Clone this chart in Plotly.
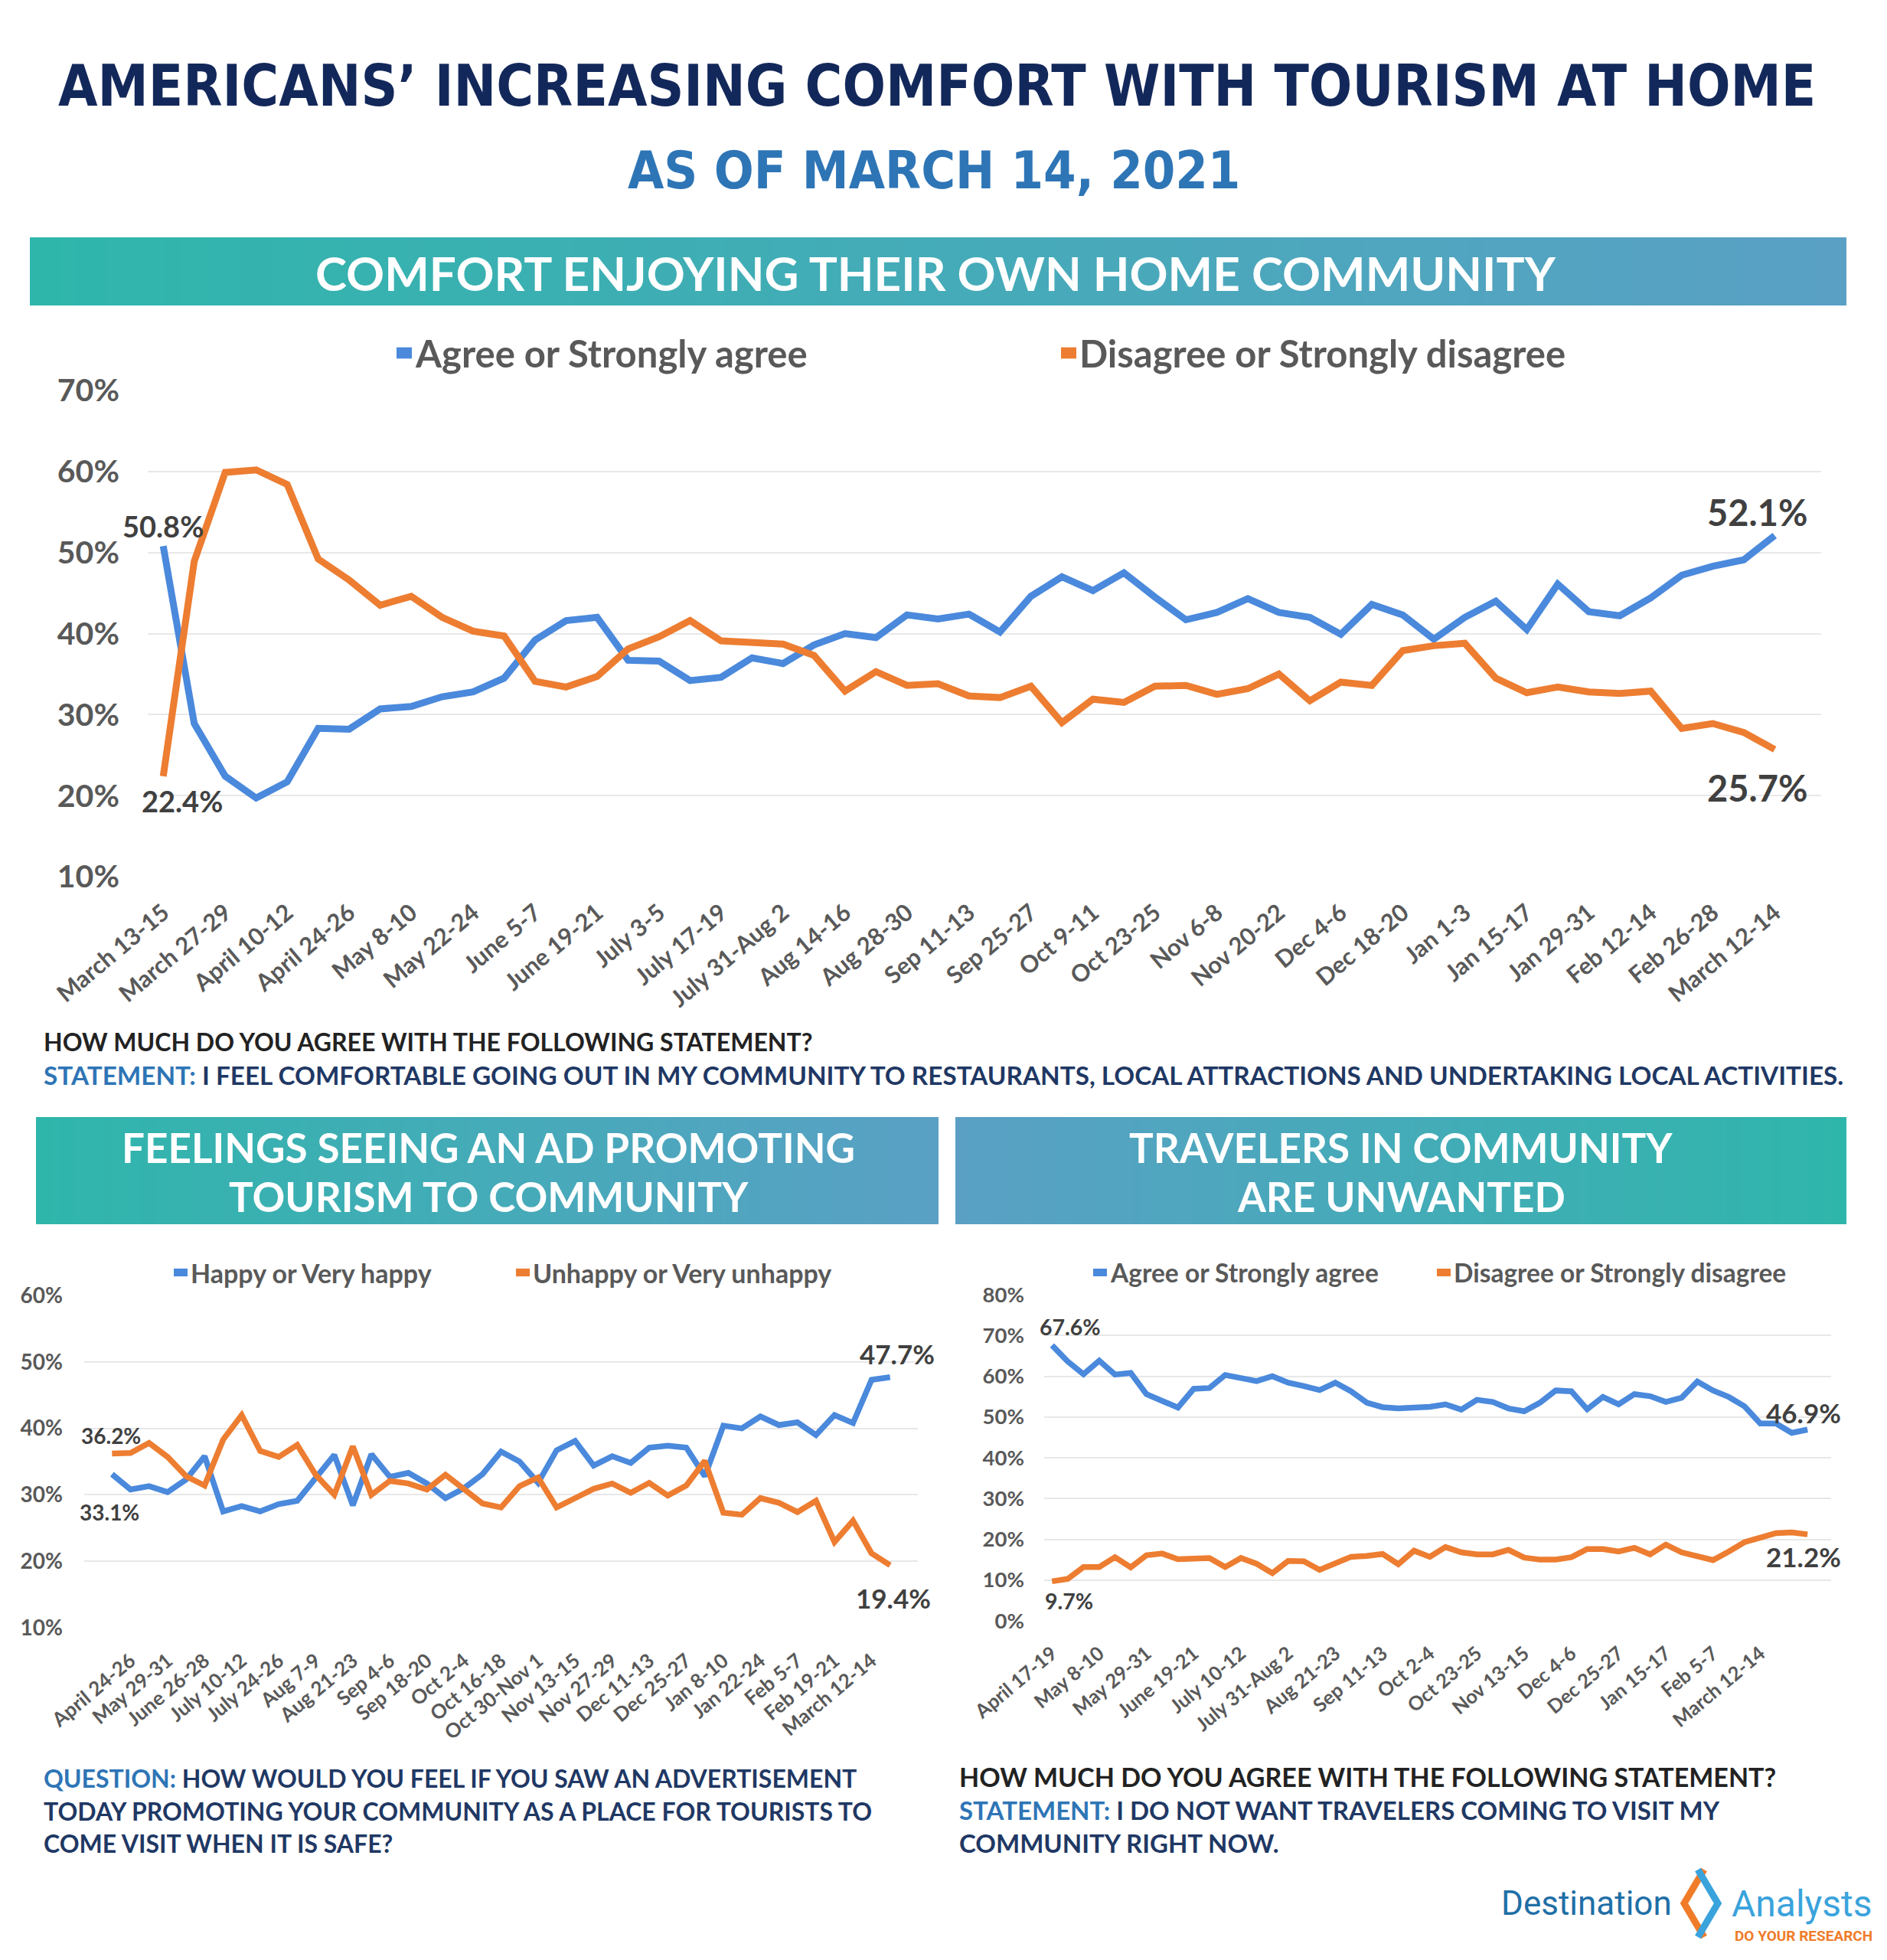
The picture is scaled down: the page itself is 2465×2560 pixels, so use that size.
import plotly.graph_objects as go

W, H = 2465, 2560

# ---------------- data ----------------
top_labels = ["March 13-15", "March 27-29", "April 10-12", "April 24-26", "May 8-10", "May 22-24",
              "June 5-7", "June 19-21", "July 3-5", "July 17-19", "July 31-Aug 2", "Aug 14-16",
              "Aug 28-30", "Sep 11-13", "Sep 25-27", "Oct 9-11", "Oct 23-25", "Nov 6-8", "Nov 20-22",
              "Dec 4-6", "Dec 18-20", "Jan 1-3", "Jan 15-17", "Jan 29-31", "Feb 12-14", "Feb 26-28",
              "March 12-14"]
top_agree = [50.8, 28.9, 22.4, 19.7, 21.7, 28.3, 28.2, 30.7, 31.0, 32.2, 32.8, 34.5, 39.2, 41.6, 42.0,
             36.7, 36.6, 34.2, 34.6, 37.0, 36.3, 38.6, 40.0, 39.5, 42.3, 41.8, 42.4, 40.2, 44.6, 47.0,
             45.3, 47.5, 44.5, 41.7, 42.6, 44.3, 42.6, 42.0, 39.9, 43.6, 42.3, 39.3, 42.0, 44.0, 40.5,
             46.1, 42.7, 42.2, 44.4, 47.2, 48.3, 49.1, 52.1]
top_disagree = [22.4, 48.9, 59.9, 60.2, 58.4, 49.2, 46.6, 43.5, 44.6, 42.0, 40.3, 39.7, 34.1, 33.4, 34.7,
                38.1, 39.6, 41.6, 39.1, 38.8, 38.7, 37.3, 32.9, 35.3, 33.6, 33.8, 32.3, 32.1, 33.5, 29.0,
                31.9, 31.5, 33.5, 33.6, 32.5, 33.2, 35.0, 31.7, 34.0, 33.6, 37.9, 38.5, 38.8, 34.5, 32.7,
                33.4, 32.8, 32.6, 32.9, 28.3, 28.9, 27.8, 25.7]

ad_labels = ["April 24-26", "May 29-31", "June 26-28", "July 10-12", "July 24-26", "Aug 7-9", "Aug 21-23",
             "Sep 4-6", "Sep 18-20", "Oct 2-4", "Oct 16-18", "Oct 30-Nov 1", "Nov 13-15", "Nov 27-29",
             "Dec 11-13", "Dec 25-27", "Jan 8-10", "Jan 22-24", "Feb 5-7", "Feb 19-21", "March 12-14"]
ad_happy = [33.1, 30.8, 31.3, 30.4, 32.3, 35.8, 27.5, 28.3, 27.5, 28.6, 29.1, 32.6, 36.0, 28.4, 36.1,
            32.7, 33.3, 31.7, 29.5, 31.0, 33.1, 36.5, 35.0, 31.8, 36.7, 38.1, 34.4, 35.8, 34.8, 37.1,
            37.4, 37.1, 32.8, 40.4, 40.0, 41.8, 40.5, 40.9, 39.0, 42.0, 40.8, 47.3, 47.7]
ad_unhappy = [36.2, 36.3, 37.8, 35.7, 32.8, 31.4, 38.3, 42.0, 36.6, 35.7, 37.5, 33.0, 30.0, 37.3, 30.0,
              32.1, 31.7, 30.8, 33.0, 30.8, 28.7, 28.1, 31.3, 32.6, 28.1, 29.5, 30.9, 31.7, 30.3, 31.8,
              29.9, 31.4, 35.1, 27.3, 27.0, 29.5, 28.8, 27.4, 29.1, 22.9, 26.1, 21.2, 19.4]

trav_labels = ["April 17-19", "May 8-10", "May 29-31", "June 19-21", "July 10-12", "July 31-Aug 2",
               "Aug 21-23", "Sep 11-13", "Oct 2-4", "Oct 23-25", "Nov 13-15", "Dec 4-6", "Dec 25-27",
               "Jan 15-17", "Feb 5-7", "March 12-14"]
trav_agree = [67.6, 63.6, 60.5, 63.8, 60.4, 60.8, 55.6, 53.9, 52.3, 56.9, 57.1, 60.3, 59.4, 58.8, 60.0,
              58.4, 57.6, 56.6, 58.4, 56.3, 53.5, 52.4, 52.1, 52.3, 52.5, 53.1, 51.8, 54.2, 53.7, 52.1,
              51.4, 53.5, 56.5, 56.3, 51.9, 54.9, 53.1, 55.6, 55.1, 53.7, 54.7, 58.7, 56.5, 54.9, 52.6,
              48.4, 48.4, 46.1, 46.9]
trav_disagree = [9.7, 10.3, 13.2, 13.2, 15.6, 13.1, 16.1, 16.5, 15.1, 15.4, 15.4, 13.2, 15.4, 14.0, 11.7,
                 14.7, 14.6, 12.5, 14.0, 15.7, 15.9, 16.4, 13.9, 17.2, 15.7, 18.1, 16.8, 16.3, 16.3, 17.4,
                 15.5, 15.0, 15.0, 15.6, 17.6, 17.6, 17.0, 17.9, 16.3, 18.7, 16.8, 16.0, 14.9, 17.0, 19.3,
                 20.4, 21.5, 21.7, 21.2]

# ---------------- styles ----------------
BLUE = "#4a89dc"
ORANGE = "#ed7d31"
GREY = "#595959"
DARK = "#404040"
NAVY = "#13285a"
MIDBLUE = "#2e75b6"
TEAL = (47, 182, 171)
SKY = (90, 160, 197)
NARROW = "'DejaVu Sans Condensed', 'Liberation Sans Narrow', sans-serif"
SANS = "Lato, 'Open Sans', sans-serif"
OFF = 8  # page margin compensation


def fx(px):
    return (px - OFF) / W


def fy(py):
    return 1 - (py - OFF) / H


fig = go.Figure()


def add_series(vals, color, width, xa, ya):
    fig.add_trace(go.Scatter(x=list(range(len(vals))), y=vals, mode="lines",
                             line=dict(color=color, width=width), xaxis=xa, yaxis=ya,
                             showlegend=False, hoverinfo="skip"))


add_series(top_agree, BLUE, 9, "x", "y")
add_series(top_disagree, ORANGE, 9, "x", "y")
add_series(ad_happy, BLUE, 7.5, "x2", "y2")
add_series(ad_unhappy, ORANGE, 7.5, "x2", "y2")
add_series(trav_agree, BLUE, 7.5, "x3", "y3")
add_series(trav_disagree, ORANGE, 7.5, "x3", "y3")

shapes = []
annotations = []


def gradient(x0, x1, y0, y1, c0, c1, n=120):
    step = (x1 - x0) / n
    for i in range(n):
        t = i / (n - 1)
        c = tuple(int(round(c0[k] + (c1[k] - c0[k]) * t)) for k in range(3))
        shapes.append(dict(type="rect", xref="paper", yref="paper",
                           x0=fx(x0 + i * step), x1=fx(min(x1, x0 + (i + 1) * step + 1)),
                           y0=fy(y1), y1=fy(y0), line=dict(width=0),
                           fillcolor="rgb(%d,%d,%d)" % c, layer="below"))


def text(x, y, s, size, color, family=SANS, xanchor="center", weight="bold"):
    annotations.append(dict(x=fx(x), y=fy(y), xref="paper", yref="paper", text=s, showarrow=False,
                            xanchor=xanchor, yanchor="middle",
                            font=dict(family=family, size=size, color=color, weight=weight)))


# titles
text(1224, 112, "AMERICANS’ INCREASING COMFORT WITH TOURISM AT HOME", 74, NAVY, NARROW)
text(1220, 222, "AS OF MARCH 14, 2021", 68, MIDBLUE, NARROW)

# banners
gradient(39, 2412, 310, 399, TEAL, SKY)
text(1222, 356, "COMFORT ENJOYING THEIR OWN HOME COMMUNITY", 62, "white")
gradient(47, 1226, 1459, 1599, TEAL, SKY)
text(638, 1498, "FEELINGS SEEING AN AD PROMOTING", 53, "white")
text(638, 1562, "TOURISM TO COMMUNITY", 53, "white")
gradient(1248, 2412, 1459, 1599, SKY, TEAL)
text(1830, 1498, "TRAVELERS IN COMMUNITY", 53, "white")
text(1830, 1562, "ARE UNWANTED", 53, "white")


# legends
def legend_item(x, y, color, label, size, mlen=20):
    shapes.append(dict(type="line", xref="paper", yref="paper", x0=fx(x), x1=fx(x + mlen),
                       y0=fy(y), y1=fy(y), line=dict(color=color, width=size * 0.3)))
    text(x + mlen + 2, y, label, size, GREY, xanchor="left")


legend_item(518, 461, BLUE, "Agree or Strongly agree", 49)
legend_item(1386, 461, ORANGE, "Disagree or Strongly disagree", 49)
legend_item(227, 1662, BLUE, "Happy or Very happy", 34, 18)
legend_item(674, 1662, ORANGE, "Unhappy or Very unhappy", 34, 18)
legend_item(1428, 1662, BLUE, "Agree or Strongly agree", 33.5, 18)
legend_item(1877, 1662, ORANGE, "Disagree or Strongly disagree", 33.5, 18)


# value labels
def val_label(xa, ya, idx, vals, dx, dy, size):
    annotations.append(dict(x=idx, y=vals[idx], xref=xa, yref=ya, text="%.1f%%" % vals[idx],
                            showarrow=False, xanchor="center", yanchor="middle", xshift=dx, yshift=dy,
                            font=dict(family=SANS, size=size, color=DARK, weight="bold")))


val_label("x", "y", 0, top_agree, 0, 26, 38)
val_label("x", "y", 0, top_disagree, 25, -32, 38)
val_label("x", "y", len(top_agree) - 1, top_agree, -23, 30, 47)
val_label("x", "y", len(top_disagree) - 1, top_disagree, -23, -50, 47)
val_label("x2", "y2", 0, ad_unhappy, -1, 24, 28)
val_label("x2", "y2", 0, ad_happy, -3, -50, 28)
val_label("x2", "y2", len(ad_happy) - 1, ad_happy, 9, 31, 35)
val_label("x2", "y2", len(ad_unhappy) - 1, ad_unhappy, 4, -43, 35)
val_label("x3", "y3", 0, trav_agree, 24, 24, 28.5)
val_label("x3", "y3", 0, trav_disagree, 22, -26, 28.5)
val_label("x3", "y3", len(trav_agree) - 1, trav_agree, -5, 22, 35)
val_label("x3", "y3", len(trav_disagree) - 1, trav_disagree, -5, -29, 35)

# question texts
DK = "#222222"
NV = "#1f3864"
text(55, 1360, "HOW MUCH DO YOU AGREE WITH THE FOLLOWING STATEMENT?", 32, DK, xanchor="left")
text(55, 1404, '<span style="color:%s">STATEMENT:</span> I FEEL COMFORTABLE GOING OUT IN MY COMMUNITY TO '
     'RESTAURANTS, LOCAL ATTRACTIONS AND UNDERTAKING LOCAL ACTIVITIES.' % MIDBLUE, 33.3, NV,
     xanchor="left")
text(55, 2322, '<span style="color:%s">QUESTION:</span> HOW WOULD YOU FEEL IF YOU SAW AN ADVERTISEMENT'
     % MIDBLUE, 32, NV, xanchor="left")
text(55, 2365, "TODAY PROMOTING YOUR COMMUNITY AS A PLACE FOR TOURISTS TO", 32, NV, xanchor="left")
text(55, 2407, "COME VISIT WHEN IT IS SAFE?", 32, NV, xanchor="left")
text(1251, 2320, "HOW MUCH DO YOU AGREE WITH THE FOLLOWING STATEMENT?", 34, DK, xanchor="left")
text(1251, 2364, '<span style="color:%s">STATEMENT:</span> I DO NOT WANT TRAVELERS COMING TO VISIT MY'
     % MIDBLUE, 33, NV, xanchor="left")
text(1251, 2407, "COMMUNITY RIGHT NOW.", 33, NV, xanchor="left")

# logo
text(2186, 2486, "Destination", 44, "#1f6fa6", family="Roboto, sans-serif", xanchor="right", weight="normal")
text(2260, 2486, "Analysts", 48, "#3aa3dc", family="Roboto, sans-serif", xanchor="left", weight="normal")
text(2264, 2528, "DO YOUR RESEARCH", 19, "#f07c2a", family="Roboto, sans-serif", xanchor="left")
cx, cy = 2222, 2486
shapes.append(dict(type="path", xref="paper", yref="paper",
                   path="M %f %f L %f %f L %f %f" % (fx(cx + 4), fy(cy - 44), fx(cx - 22), fy(cy), fx(cx + 4), fy(cy + 44)),
                   line=dict(color="#f07c2a", width=9)))
shapes.append(dict(type="path", xref="paper", yref="paper",
                   path="M %f %f L %f %f L %f %f" % (fx(cx - 4), fy(cy - 44), fx(cx + 22), fy(cy), fx(cx - 4), fy(cy + 44)),
                   line=dict(color="#3aa3dc", width=9)))


# ---------------- axes ----------------
def xaxis(dom, rng, labels, start, step, size, anchor):
    return dict(domain=[fx(dom[0]), fx(dom[1])], range=rng, anchor=anchor, automargin=False,
                tickmode="array", tickvals=list(range(start, start + step * len(labels), step)),
                ticktext=labels, tickangle=-40, ticks="", showgrid=False, zeroline=False, showline=False,
                ticklabelstandoff=22, tickfont=dict(family=SANS, size=size, color=GREY, weight="bold"),
                fixedrange=True)


def yaxis(dom, rng, dtick, size, standoff, anchor):
    return dict(domain=[fy(dom[1]), fy(dom[0])], range=rng, anchor=anchor, automargin=False,
                tickmode="linear", tick0=rng[0], dtick=dtick, ticksuffix="%", ticks="", showgrid=True,
                gridcolor="#e8e8e8", gridwidth=2, zeroline=False, showline=False,
                ticklabelstandoff=standoff,
                tickfont=dict(family=SANS, size=size, color=GREY, weight="bold"), fixedrange=True)


fig.update_layout(
    width=W, height=H, margin=dict(l=0, r=0, t=0, b=0, autoexpand=False), paper_bgcolor="white",
    plot_bgcolor="white", showlegend=False,
    xaxis=xaxis((193, 2379), [-0.5, 53.5], top_labels, 0, 2, 31, "y"),
    yaxis=yaxis((510, 1145), [10, 70], 10, 41, 36, "x"),
    xaxis2=xaxis((110, 1199), [-1.5, 43.5], ad_labels, 1, 2, 26, "y2"),
    yaxis2=yaxis((1692, 2126), [10, 60], 10, 28, 27, "x2"),
    xaxis3=xaxis((1364, 2392), [-0.5, 49.5], trav_labels, 0, 3, 25.5, "y3"),
    yaxis3=yaxis((1691, 2117), [0, 80], 10, 27.5, 25, "x3"),
    shapes=shapes, annotations=annotations,
)

fig.write_html("out.html")
